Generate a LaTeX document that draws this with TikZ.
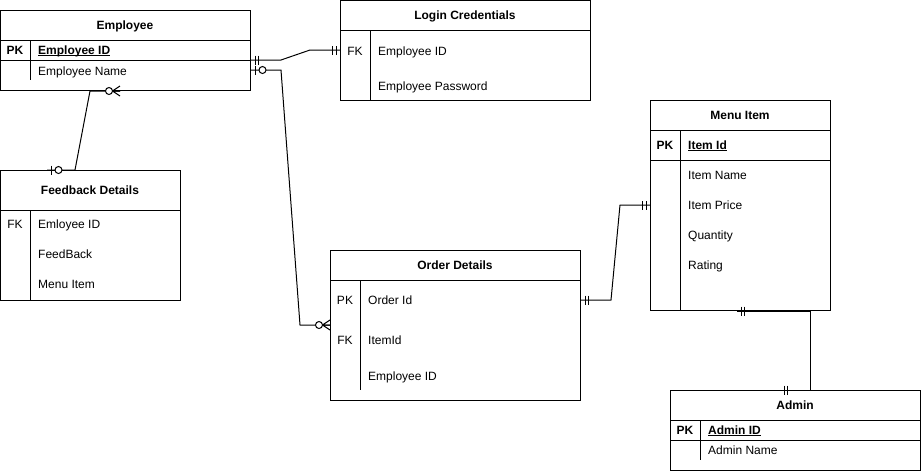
\documentclass[tikz,border=0pt]{standalone}
\usepackage{fontspec}
\setmainfont{Liberation Sans}
\usetikzlibrary{calc}
\newcommand{\ulkey}[1]{\setbox0\hbox{#1}\rlap{\rule[-1.7pt]{\wd0}{0.9pt}}\box0}
\tikzset{
  ent/.style={draw, line width=1pt, rectangle, anchor=north west, inner sep=0pt},
  sep/.style={line width=1pt},
  conn/.style={line width=1pt},
  ttl/.style={anchor=base, inner sep=0pt, font=\fontsize{12pt}{14pt}\selectfont\bfseries},
  fld/.style={anchor=base west, inner sep=0pt, font=\fontsize{12pt}{14pt}\selectfont},
  key/.style={anchor=base, inner sep=0pt, font=\fontsize{12pt}{14pt}\selectfont},
  mandone/.pic={\draw[line width=1pt] (4,-4.5) -- (4,4.5) (7.5,-4.5) -- (7.5,4.5);},
  zeroone/.pic={\draw[line width=1pt] (4,-4.5) -- (4,4.5);
                \draw[line width=1pt, fill=white] (11.5,0) circle (3.5pt);},
  zeromany/.pic={\draw[line width=1pt] (0,-5) -- (7.5,0) -- (0,5) (0,0) -- (7.5,0);
                 \draw[line width=1pt, fill=white] (11,0) circle (3.5pt);},
}
\begin{document}
\begin{tikzpicture}[x=1pt, y=-1pt]
\useasboundingbox (0,0) rectangle (922,472);

% ---------- Employee ----------
\node[ent, minimum width=250pt, minimum height=80pt] (emp) at (0,10) {};
\begin{scope}[shift={(emp.north west)}]
  \draw[sep] (0,30) -- (250,30);
  \draw[sep] (0,50) -- (250,50);
  \draw[sep] (30,30) -- (30,70);
  \node[ttl] (empT) at (125,19.5) {Employee};
  \node[key, font=\fontsize{12pt}{14pt}\selectfont\bfseries] (empPK) at (15,44.5) {PK};
  \node[fld, font=\fontsize{12pt}{14pt}\selectfont\bfseries] (empF1) at (38,44.5) {\ulkey{Employee ID}};
  \node[fld] (empF2) at (38,65) {Employee Name};
\end{scope}

% ---------- Login Credentials ----------
\node[ent, minimum width=250pt, minimum height=100pt] (lgn) at (340,0) {};
\begin{scope}[shift={(lgn.north west)}]
  \draw[sep] (0,30) -- (250,30);
  \draw[sep] (30,30) -- (30,100);
  \node[ttl] (lgnT) at (125,19.5) {Login Credentials};
  \node[key] (lgnFK) at (15,55) {FK};
  \node[fld] (lgnF1) at (38,55) {Employee ID};
  \node[fld] (lgnF2) at (38,90) {Employee Password};
\end{scope}

% ---------- Menu Item ----------
\node[ent, minimum width=180pt, minimum height=210pt] (men) at (650,100) {};
\begin{scope}[shift={(men.north west)}]
  \draw[sep] (0,30) -- (180,30);
  \draw[sep] (0,60) -- (180,60);
  \draw[sep] (30,30) -- (30,210);
  \node[ttl] (menT) at (90,19.5) {Menu Item};
  \node[key, font=\fontsize{12pt}{14pt}\selectfont\bfseries] (menPK) at (15,49.5) {PK};
  \node[fld, font=\fontsize{12pt}{14pt}\selectfont\bfseries] (menF1) at (38,49.5) {\ulkey{Item Id}};
  \node[fld] (menF2) at (38,79.5) {Item Name};
  \node[fld] (menF3) at (38,109.5) {Item Price};
  \node[fld] (menF4) at (38,139.5) {Quantity};
  \node[fld] (menF5) at (38,169.5) {Rating};
\end{scope}

% ---------- Order Details ----------
\node[ent, minimum width=250pt, minimum height=150pt] (ord) at (330,250) {};
\begin{scope}[shift={(ord.north west)}]
  \draw[sep] (0,30) -- (250,30);
  \draw[sep] (30,30) -- (30,140);
  \node[ttl] (ordT) at (125,19.5) {Order Details};
  \node[key] (ordPK) at (15,54.5) {PK};
  \node[fld] (ordF1) at (38,54.5) {Order Id};
  \node[key] (ordFK) at (15,94.5) {FK};
  \node[fld] (ordF2) at (38,94.5) {ItemId};
  \node[fld] (ordF3) at (38,130.5) {Employee ID};
\end{scope}

% ---------- Feedback Details ----------
\node[ent, minimum width=180pt, minimum height=130pt] (fb) at (0,170) {};
\begin{scope}[shift={(fb.north west)}]
  \draw[sep] (0,40) -- (180,40);
  \draw[sep] (30,40) -- (30,130);
  \node[ttl] (fbT) at (90,24) {Feedback Details};
  \node[key] (fbFK) at (15,58.5) {FK};
  \node[fld] (fbF1) at (38,58.5) {Emloyee ID};
  \node[fld] (fbF2) at (38,88.5) {FeedBack};
  \node[fld] (fbF3) at (38,118.5) {Menu Item};
\end{scope}

% ---------- Admin ----------
\node[ent, minimum width=250pt, minimum height=80pt] (adm) at (670,390) {};
\begin{scope}[shift={(adm.north west)}]
  \draw[sep] (0,30) -- (250,30);
  \draw[sep] (0,50) -- (250,50);
  \draw[sep] (30,30) -- (30,70);
  \node[ttl] (admT) at (125,19.5) {Admin};
  \node[key, font=\fontsize{12pt}{14pt}\selectfont\bfseries] (admPK) at (15,44.5) {PK};
  \node[fld, font=\fontsize{12pt}{14pt}\selectfont\bfseries] (admF1) at (38,44.5) {\ulkey{Admin ID}};
  \node[fld] (admF2) at (38,64.5) {Admin Name};
\end{scope}

% ---------- connection points ----------
\coordinate (cEmpR1) at ($(emp.north east)+(0,50)$);
\coordinate (cEmpR2) at ($(emp.north east)+(0,60)$);
\coordinate (cEmpB)  at ($(emp.south west)+(120,0)$);
\coordinate (cLgnL)  at ($(lgn.north west)+(0,50)$);
\coordinate (cOrdL)  at ($(ord.north west)+(0,75)$);
\coordinate (cOrdR)  at ($(ord.north east)+(0,50)$);
\coordinate (cMenL)  at ($(men.north west)+(0,105)$);
\coordinate (cMenB)  at ($(men.south west)+(87,0)$);
\coordinate (cFbT)   at ($(fb.north west)+(47,0)$);
\coordinate (cAdmT)  at ($(adm.north west)+(110,0)$);

% ---------- connectors ----------
\draw[conn] (cEmpR1) -- ++(30,0) -- ($(cLgnL)+(-30,0)$) -- (cLgnL);
\draw[conn] (cEmpR2) -- ++(30,0) -- ($(cOrdL)+(-30,0)$) -- (cOrdL);
\draw[conn] (cFbT) -- ++(28,0) -- ($(cEmpB)+(-30,0)$) -- (cEmpB);
\draw[conn] (cOrdR) -- ++(30,0) -- ($(cMenL)+(-30,0)$) -- (cMenL);
\draw[conn] (cMenB) -- ++(73,0) |- (cAdmT);

% ---------- markers ----------
\pic at (cEmpR1) {mandone};
\pic[rotate=180] at (cLgnL) {mandone};
\pic at (cEmpR2) {zeroone};
\pic[rotate=180] at (cOrdL) {zeromany};
\pic at (cFbT) {zeroone};
\pic[rotate=180] at (cEmpB) {zeromany};
\pic at (cOrdR) {mandone};
\pic[rotate=180] at (cMenL) {mandone};
\pic at (cMenB) {mandone};
\pic at (cAdmT) {mandone};
\end{tikzpicture}
\end{document}
